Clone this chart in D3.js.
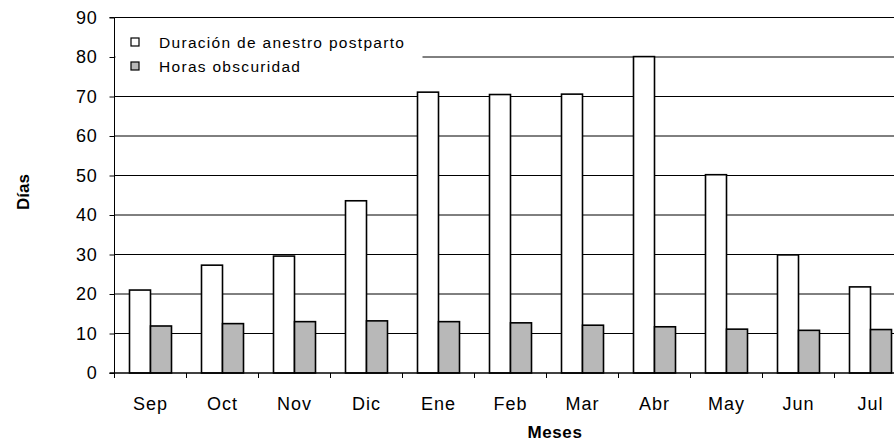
<!DOCTYPE html>
<html><head><meta charset="utf-8">
<script src="https://cdn.jsdelivr.net/npm/d3@7"></script>
<style>body{margin:0;background:#fff}svg{display:block;font-family:"Liberation Sans",Arial,sans-serif}</style>
</head><body><svg id="c" width="894" height="442"></svg>
<script>
const months = ["Sep","Oct","Nov","Dic","Ene","Feb","Mar","Abr","May","Jun","Jul"];
const anestro = [21.0, 27.3, 29.6, 43.6, 71.1, 70.5, 70.6, 80.1, 50.2, 29.9, 21.8];
const oscuridad = [11.9, 12.5, 13.0, 13.2, 13.0, 12.7, 12.1, 11.7, 11.1, 10.8, 11.0];
const seriesNames = ["Duración de anestro postparto", "Horas obscuridad"];
const yTicks = [0,10,20,30,40,50,60,70,80,90];
const xTitle = "Meses", yTitle = "Días";

const svg = d3.select("#c");
const left = 114.5, bandW = 72;
const x = d3.scaleBand().domain(months).range([left, left + bandW*months.length]).paddingInner(0).paddingOuter(0);
const y = d3.scaleLinear().domain([0,90]).range([373, 17.5]);
const inner = d3.scaleBand().domain([0,1]).range([15, bandW-15]).padding(0);
const right = 894;

// gridlines
svg.append("g").selectAll("line").data(yTicks.filter(d=>d>0)).join("line")
  .attr("x1", left).attr("x2", right).attr("y1", d=>y(d)).attr("y2", d=>y(d))
  .attr("stroke","#000").attr("stroke-width",1);

// y axis
const yAxis = d3.axisLeft(y).tickValues(yTicks).tickSize(5).tickPadding(12);
svg.append("g").attr("transform",`translate(${left},0)`).call(yAxis)
  .call(g=>{g.select(".domain").attr("stroke","#000").attr("d",`M-5,${y(90)}H0V${y(0)}H0`);
    g.selectAll("text").attr("font-size",18).attr("letter-spacing","0.8px").attr("font-family","Liberation Sans, Arial").attr("fill","#000");
    g.selectAll("line").attr("stroke","#000");});

// legend background (covers gridline)
svg.append("rect").attr("x",left+1).attr("y",28).attr("width",307).attr("height",52).attr("fill","#fff");

// bars
const data = months.map((m,i)=>({m, v:[anestro[i], oscuridad[i]]}));
const fills = ["#ffffff","#b8b8b8"];
const grp = svg.append("g").selectAll("g").data(data).join("g").attr("transform",d=>`translate(${x(d.m)},0)`);
grp.selectAll("rect").data(d=>d.v.map((v,k)=>({v,k}))).join("rect")
  .attr("x",d=>inner(d.k)).attr("width",inner.bandwidth())
  .attr("y",d=>y(d.v)).attr("height",d=>y(0)-y(d.v))
  .attr("fill",d=>fills[d.k]).attr("stroke","#000").attr("stroke-width",1.6);

// x axis
const xAxis = d3.axisBottom(x).tickSize(0).tickPadding(24);
const xg = svg.append("g").attr("transform",`translate(0,${y(0)})`).call(xAxis);
xg.select(".domain").attr("d",`M${left-5},0H${right}`).attr("stroke","#000").attr("stroke-width",1.3);
xg.selectAll("text").attr("font-size",18).attr("letter-spacing","1px").attr("fill","#000");
// x boundary ticks
xg.append("g").selectAll("line").data(months).join("line")
  .attr("x1",d=>x(d)).attr("x2",d=>x(d)).attr("y1",0).attr("y2",5).attr("stroke","#000");

// legend
const lg = svg.append("g");
seriesNames.forEach((s,k)=>{
  const cy = 42.5 + k*24;
  lg.append("rect").attr("x",131).attr("y",cy-4.5).attr("width",8).attr("height",8)
    .attr("fill",fills[k]).attr("stroke","#000").attr("stroke-width",1.2);
  lg.append("text").attr("x",159).attr("y",cy+5.5).attr("font-size",15.5).attr("letter-spacing","1.3px").text(s);
});

// titles
svg.append("text").attr("x",555).attr("y",438).attr("text-anchor","middle").attr("font-weight","bold")
  .attr("font-size",17).attr("letter-spacing","0.6px").text(xTitle);
svg.append("text").attr("transform","translate(29,192) rotate(-90)").attr("text-anchor","middle")
  .attr("font-weight","bold").attr("font-size",17).text(yTitle);
</script></body></html>
